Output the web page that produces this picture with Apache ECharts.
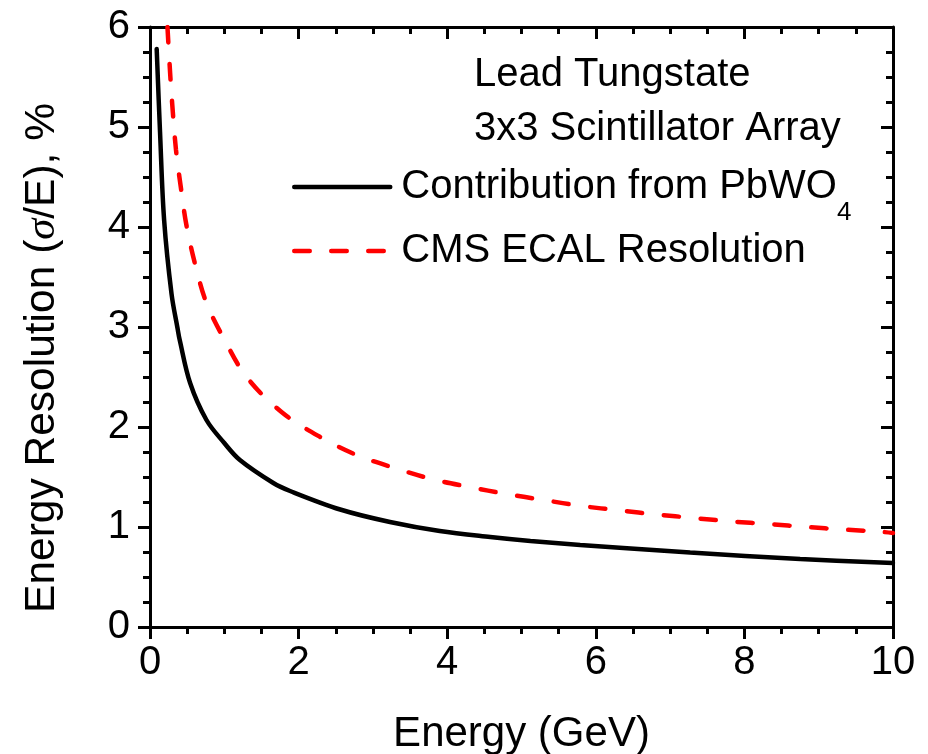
<!DOCTYPE html>
<html>
<head>
<meta charset="utf-8">
<script src="https://cdn.jsdelivr.net/npm/echarts@6/dist/echarts.min.js"></script>
<style>
  html, body { margin: 0; padding: 0; background: #fff; }
  #chart { width: 928px; height: 754px; }
</style>
</head>
<body>
<div id="chart"></div>
<script>
// Energy resolution curves (sigma/E in %) versus beam energy in GeV
const pbwoEnergy = [0.09, 0.135, 0.19, 0.29, 0.37, 0.40, 0.54, 0.76, 1.0, 1.21, 1.66, 1.885, 2.56, 3.23, 3.90, 4.58, 5.12, 5.79, 6.37, 7.27, 8.75, 10.0];
const pbwoResolution = [5.78, 4.95, 4.07, 3.33, 2.99, 2.87, 2.44, 2.07, 1.84, 1.67, 1.44, 1.36, 1.175, 1.05, 0.96, 0.90, 0.86, 0.82, 0.79, 0.745, 0.68, 0.64];

const ecalEnergy = [0.235, 0.27, 0.30, 0.35, 0.42, 0.49, 0.61, 0.76, 0.99, 1.30, 1.77, 2.29, 2.78, 3.29, 3.79, 4.30, 4.80, 5.30, 5.81, 6.33, 6.82, 7.32, 7.83, 8.33, 8.84, 9.33, 9.87, 10.0];
const ecalResolution = [6.0, 5.55, 5.22, 4.77, 4.37, 4.02, 3.62, 3.24, 2.89, 2.50, 2.15, 1.90, 1.72, 1.59, 1.48, 1.40, 1.33, 1.27, 1.21, 1.165, 1.125, 1.09, 1.055, 1.03, 1.00, 0.975, 0.95, 0.94];

const xTicks = { min: 0, max: 10, interval: 2 };
const yTicks = { min: 0, max: 6, interval: 1 };

const seriesNames = ['Contribution from PbWO4', 'CMS ECAL Resolution'];
const annotationLines = ['Lead Tungstate', '3x3 Scintillator Array'];

const FONT = '"Liberation Sans", Arial, Helvetica, sans-serif';
const LINE_W = 4.5;
const DASH = [15.5, 21.5];

function pairs(xs, ys) { return xs.map((x, i) => [x, ys[i]]); }

function frameAxis(position, inside, showLabel, extra) {
  return Object.assign({
    type: 'value',
    position: position,
    axisLine: { show: true, onZero: false, lineStyle: { color: '#000', width: 3 } },
    axisTick: { show: true, inside: inside, length: 12, lineStyle: { color: '#000', width: 3 } },
    minorTick: { show: true, splitNumber: 4, length: 7, lineStyle: { color: '#000', width: 3 } },
    splitLine: { show: false },
    axisLabel: { show: showLabel, color: '#000', fontSize: 40, fontFamily: FONT }
  }, extra);
}

const chart = echarts.init(document.getElementById('chart'), null, { renderer: 'canvas' });

function legendFor(name, top, lineStyle) {
  return {
    orient: 'vertical',
    left: 292,
    top: top,
    padding: 0,
    itemWidth: 96,
    itemHeight: 14,
    itemGap: 0,
    selectedMode: false,
    itemStyle: { opacity: 0 },
    lineStyle: lineStyle,
    textStyle: {
      color: '#000', fontSize: 40, fontFamily: FONT, padding: [0, 0, 0, 6],
      rich: {
        sub: { fontSize: 26, fontFamily: FONT, color: '#000', padding: [52, 0, 0, 0] }
      }
    },
    formatter: function (n) { return n.replace(/O4$/, 'O{sub|4}'); },
    data: [name]
  };
}

chart.setOption({
  animation: false,
  backgroundColor: '#fff',
  grid: { left: 150, right: 35, top: 27, bottom: 127, containLabel: false, outerBoundsMode: 'none' },
  title: {
    text: annotationLines.join('\n'),
    left: 474,
    top: 48,
    padding: 0,
    textStyle: { color: '#000', fontSize: 40, fontWeight: 'normal', fontFamily: FONT, lineHeight: 54 }
  },
  legend: [
    legendFor(seriesNames[0], 167, { color: '#000', width: LINE_W, type: 'solid', cap: 'round' }),
    legendFor(seriesNames[1], 231, { color: '#ff0000', width: LINE_W, type: DASH, cap: 'round' })
  ],
  xAxis: [
    frameAxis('bottom', false, true, {
      min: xTicks.min, max: xTicks.max, interval: xTicks.interval,
      axisLabel: { show: true, color: '#000', fontSize: 40, fontFamily: FONT, margin: 16 },
      name: 'Energy (GeV)',
      nameLocation: 'middle',
      nameGap: 86,
      nameTextStyle: { color: '#000', fontSize: 42, fontFamily: FONT }
    }),
    frameAxis('top', true, false, {
      min: xTicks.min, max: xTicks.max, interval: xTicks.interval
    })
  ],
  yAxis: [
    frameAxis('left', false, true, {
      min: yTicks.min, max: yTicks.max, interval: yTicks.interval,
      axisLabel: { show: true, color: '#000', fontSize: 40, fontFamily: FONT, margin: 20 },
      name: 'Energy Resolution ({s|σ}/E), %',
      nameLocation: 'middle',
      nameGap: 86,
      nameTextStyle: {
        color: '#000', fontSize: 42.5, fontFamily: FONT, padding: [0, 62, 0, 0],
        rich: { s: { fontSize: 42.5, fontStyle: 'italic', fontFamily: '"Liberation Serif", "DejaVu Serif", serif', color: '#000' } }
      }
    }),
    frameAxis('right', true, false, {
      min: yTicks.min, max: yTicks.max, interval: yTicks.interval
    })
  ],
  series: [
    {
      name: seriesNames[0],
      type: 'line',
      xAxisIndex: 0, yAxisIndex: 0,
      data: pairs(pbwoEnergy, pbwoResolution),
      showSymbol: false,
      symbol: 'none',
      smooth: 0.35,
      lineStyle: { color: '#000', width: LINE_W, cap: 'round' },
      itemStyle: { color: '#000' }
    },
    {
      name: seriesNames[1],
      type: 'line',
      xAxisIndex: 0, yAxisIndex: 0,
      data: pairs(ecalEnergy, ecalResolution),
      showSymbol: false,
      symbol: 'none',
      smooth: 0.35,
      lineStyle: { color: '#ff0000', width: LINE_W, type: DASH, cap: 'round' },
      itemStyle: { color: '#ff0000' }
    }
  ]
});
</script>
</body>
</html>
